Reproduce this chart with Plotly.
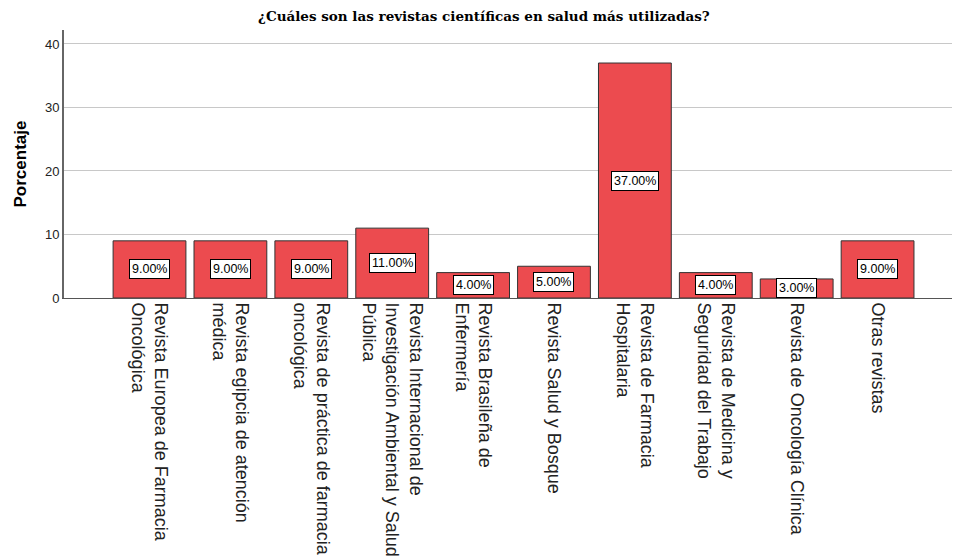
import plotly.graph_objects as go

categories = [
    "Revista Europea de Farmacia<br>Oncológica",
    "Revista egipcia de atención<br>médica",
    "Revista de práctica de farmacia<br>oncológica",
    "Revista Internacional de<br>Investigación Ambiental y Salud<br>Pública",
    "Revista Brasileña de<br>Enfermería",
    "Revista Salud y Bosque",
    "Revista de Farmacia<br>Hospitalaria",
    "Revista de Medicina y<br>Seguridad del Trabajo",
    "Revista de Oncología Clínica",
    "Otras revistas",
]
values = [9, 9, 9, 11, 4, 5, 37, 4, 3, 9]
value_labels = [f"{v:.2f}%" for v in values]
y_ticks = [0, 10, 20, 30, 40]

title = "¿Cuáles son las revistas científicas en salud más utilizadas?"
y_title = "Porcentaje"

xs = list(range(len(categories)))

fig = go.Figure()
fig.add_trace(go.Bar(
    x=xs, y=values, width=0.9,
    marker=dict(color="#EC4B4F", line=dict(color="#333333", width=1)),
    hoverinfo="skip",
))

for x, v, lab in zip(xs, values, value_labels):
    fig.add_annotation(
        x=x, y=v / 2, text=lab, showarrow=False,
        font=dict(family="Liberation Sans, Arial", size=12.5, color="black"),
        bgcolor="white", bordercolor="black", borderwidth=1, borderpad=2,
    )

fig.add_annotation(
    xref="paper", yref="paper", x=(484 - 64) / 888, y=1, yshift=14, yanchor="middle",
    text=f"<b>{title}</b>", showarrow=False,
    font=dict(family="DejaVu Serif", size=13.5, color="black"),
)

fig.update_layout(
    width=953, height=560,
    margin=dict(l=64, r=1, t=30, b=262, pad=0),
    paper_bgcolor="white", plot_bgcolor="white",
    showlegend=False,
    font=dict(family="Liberation Sans, Arial", color="#222222"),
    xaxis=dict(
        tickmode="array", tickvals=xs, ticktext=categories,
        tickangle=90, range=[-1.057, 9.92],
        showgrid=False, zeroline=False,
        showline=True, linecolor="#555555", linewidth=1,
        ticks="", tickfont=dict(size=18, color="#222222"),
    ),
    yaxis=dict(
        range=[0, 42.2], tickmode="array", tickvals=y_ticks,
        showgrid=True, gridcolor="#C8C8C8", gridwidth=1,
        zeroline=False, showline=True, linecolor="#666666", linewidth=2,
        ticks="", ticklen=0, tickfont=dict(size=13, color="#222222"),
        title=dict(text=f"<b>{y_title}</b>", font=dict(size=17, color="black"), standoff=14),
    ),
)

fig.write_html("out.html")
